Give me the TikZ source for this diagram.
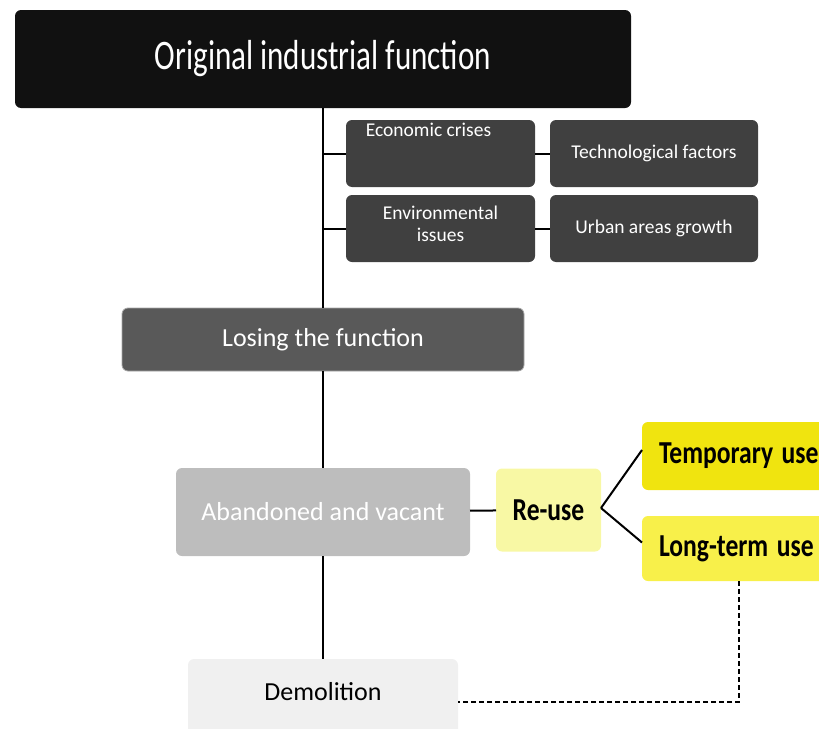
\documentclass[tikz,border=0pt]{standalone}
\usepackage{fontspec}
\setmainfont{Carlito}
\usetikzlibrary{
    positioning
}
\definecolor{titleblack}{HTML}{111111}
\definecolor{causegray}{HTML}{404040}
\definecolor{losegray}{HTML}{595959}
\definecolor{vacantgray}{HTML}{BDBDBD}
\definecolor{reuseyellow}{HTML}{F8F8A4}
\definecolor{tempyellow}{HTML}{F0E40F}
\definecolor{longyellow}{HTML}{F8F04A}
\definecolor{demolgray}{HTML}{F0F0F0}
\tikzset{
    every picture/.style = {
        x = 1pt,
        y = -1pt,
        line width = 2pt
    },
    every node/.style = {
        inner sep = 2pt,
        outer sep = 0pt,
        align = center,
        rounded corners = 6pt
    },
    size/.style args = {#1 by #2}{
        minimum width = #1,
        minimum height = #2
    },
    titlebox/.style = {
        fill = titleblack,
        text = white,
        font = \fontsize{42}{48}\selectfont,
        size = 616pt by 98pt
    },
    causetext/.style = {
        text = white,
        font = \fontsize{19.5}{23}\selectfont
    },
    causebox/.style = {
        causetext,
        fill = causegray,
        size = 189pt by 67pt
    },
    usebox/.style = {
        font = \fontsize{32}{36}\selectfont\bfseries,
        text width = 220pt,
        align = left,
        inner xsep = 17pt
    },
    stepbox/.style = {
        font = \fontsize{26}{30}\selectfont
    }
}

\begin{document}
\begin{tikzpicture}
    \useasboundingbox (0,0) rectangle (819,728);
    \clip (0,0) rectangle (819,728);

    \node[titlebox] (orig) at (323,59) {\scalebox{0.74}[1]{Original industrial function}};

    \node[causebox, label = {[causetext, anchor = north, xshift = -12pt, yshift = -1pt]north:Economic crises}] (eco) at (440.5,153.5) {};
    \node[causebox, size = 208pt by 67pt] (tech) [right = 15pt of eco] {Technological factors};
    \node[causebox, label = {[causetext, yshift = 5pt]center:Environmental\\[-1pt]issues}] (env) at (440.5,228.5) {};
    \node[causebox, size = 208pt by 67pt] (urb) [right = 15pt of env] {Urban areas growth};

    \node[stepbox, fill = losegray, draw = gray!70, line width = 0.8pt, text = white, size = 402pt by 63pt] (lose) at (323,339.5) {Losing the function};
    \node[stepbox, fill = vacantgray, text = white, size = 294pt by 88pt] (vacant) at (323,512) {Abandoned and vacant};
    \node[fill = reuseyellow, font = \fontsize{32}{36}\selectfont\bfseries, size = 105pt by 83pt] (reuse) at (548.5,510) {\scalebox{0.8}[1]{Re-use}};
    \node[usebox, fill = tempyellow, size = 10pt by 68pt, anchor = west] (temp) at (642,456) {\scalebox{0.8}[1]{Temporary use}};
    \node[usebox, fill = longyellow, size = 10pt by 65pt, anchor = west] (long) at (642,548.5) {\scalebox{0.8}[1]{Long-term use}};
    \node[fill = demolgray, size = 270pt by 76pt, label = {[stepbox, yshift = 5pt]center:Demolition}] (demol) at (323,697) {};

    % spine
    \draw (orig) -- (lose) -- (vacant) -- (demol);
    \draw (eco.west) -- (eco.west -| orig.south);
    \draw (env.west) -- (env.west -| orig.south);
    \draw (eco) -- (tech);
    \draw (env) -- (urb);

    \draw (vacant) -- (reuse);
    \draw ([yshift = 2pt]reuse.east) -- ([yshift = 6pt]temp.west);
    \draw ([yshift = 2pt]reuse.east) -- ([yshift = 6pt]long.west);

    \draw[line width = 1.3pt, dash pattern = on 5pt off 3pt] ([xshift = 97pt]long.south west) |- ([yshift = -5pt]demol.east);
\end{tikzpicture}
\end{document}
